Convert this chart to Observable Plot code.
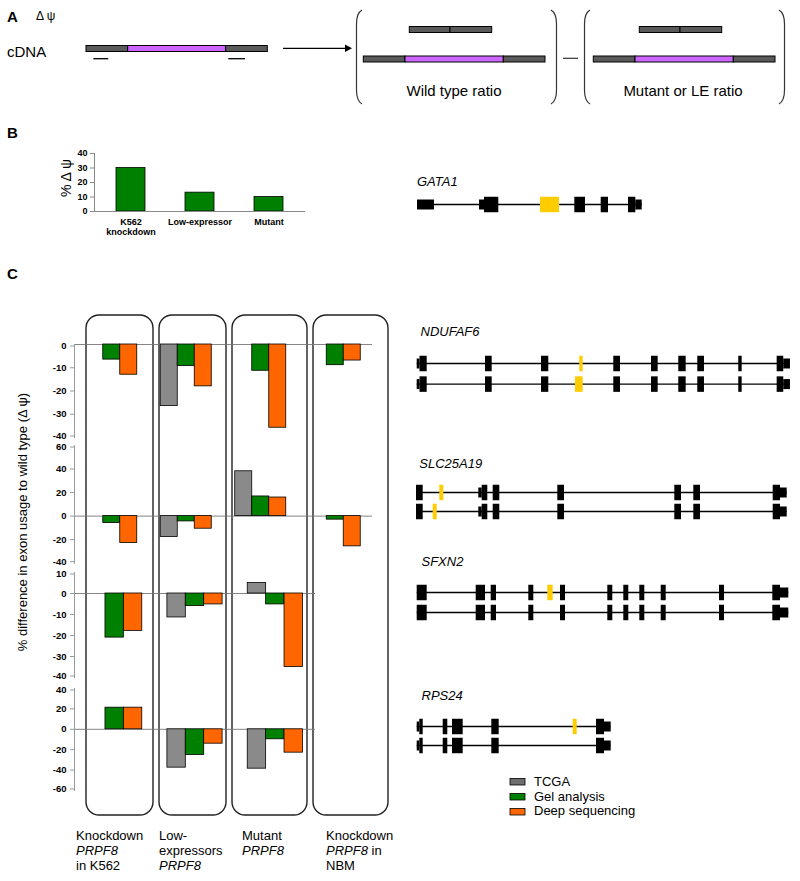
<!DOCTYPE html>
<html><head><meta charset="utf-8">
<script src="https://cdn.jsdelivr.net/npm/d3@7"></script>
<script src="https://cdn.jsdelivr.net/npm/@observablehq/plot@0.6"></script>
<style>
body{margin:0;background:#fff;}
#fig{position:relative;width:800px;height:881px;overflow:hidden;background:#fff;font-family:"Liberation Sans",Arial,Helvetica,sans-serif;}
</style></head>
<body><div id="fig"></div>
<script>
// ---------- DATA ----------
// Panel B
const bCategories = ["K562\nknockdown", "Low-expressor", "Mutant"];
const bValues = [30, 13, 10];
const bTicks = [0, 10, 20, 30, 40];

// Panel C
const cGroups = ["Knockdown PRPF8 in K562", "Low-expressors PRPF8", "Mutant PRPF8", "Knockdown PRPF8 in NBM"];
const cSeries = ["TCGA", "Gel analysis", "Deep sequencing"];
const cColors = ["#8a8a8a", "#008000", "#ff6600"];

const ndufaf6TCGA = [null, -26.5, null, null];
const ndufaf6Gel = [-6.5, -9.3, -11.3, -8.9];
const ndufaf6Deep = [-13, -18, -35.8, -6.9];
const ndufaf6Ticks = [0, -10, -20, -30, -40];

const slc25a19TCGA = [null, -17.8, 38.1, null];
const slc25a19Gel = [-5.9, -4.5, 16.7, -3];
const slc25a19Deep = [-22.9, -10.7, 15.8, -25.7];
const slc25a19Ticks = [60, 40, 20, 0, -20, -40];

const sfxn2TCGA = [null, -11.4, 5];
const sfxn2Gel = [-21, -6, -5.2];
const sfxn2Deep = [-17.8, -5.2, -35];
const sfxn2Ticks = [10, 0, -10, -20, -30, -40];

const rps24TCGA = [null, -37.6, -38.6];
const rps24Gel = [21.2, -25.2, -9.8];
const rps24Deep = [21.2, -14.1, -22.9];
const rps24Ticks = [40, 20, 0, -20, -40, -60];

// Gene structures: [start, end, kind] in relative gene coordinates
const gata1Span = [1, 226];
const gata1Exons = [[1, 18, "utr"], [63, 68, "utr"], [68, 82.3, "cds"], [158.3, 169, "cds"], [184.7, 192, "cds"], [212, 219.3, "cds"], [219.3, 225.7, "utr"]];
const gata1Alt = [[0, 124, 143]];

const ndufaf6Span = [0.7, 374];
const ndufaf6Exons = [[0.7, 3.5, "utr"], [3.5, 10.7, "cds"], [69, 75.7, "cds"], [125, 132.3, "cds"], [197.3, 204, "cds"], [235, 241.7, "cds"], [262.3, 269.7, "cds"], [281.3, 288, "cds"], [322.3, 325.7, "cds"], [360.7, 367.3, "cds"], [367.3, 374, "utr"]];
const ndufaf6Alt = [[0, 163.3, 166.7], [1, 159, 166.7]];

const slc25a19Span = [0, 370.7];
const slc25a19Exons = [[0, 6.7, "cds"], [62.3, 65.7, "utr"], [65.7, 71.3, "cds"], [76.7, 83.3, "cds"], [141.3, 148, "cds"], [258.3, 265, "cds"], [277.3, 284, "cds"], [356.7, 364, "cds"], [364, 370.7, "utr"]];
const slc25a19Alt = [[0, 23.3, 27.3], [1, 16.7, 20.7]];

const sfxn2Span = [0.7, 372.3];
const sfxn2Exons = [[0.7, 10.7, "cds"], [59.7, 69, "cds"], [74.7, 80, "cds"], [112.3, 117.3, "cds"], [144, 149, "cds"], [191.3, 196.3, "cds"], [207.3, 212.3, "cds"], [223.3, 228.3, "cds"], [244.7, 249.7, "cds"], [303, 308, "cds"], [356.3, 364, "cds"], [364, 372.3, "utr"]];
const sfxn2Alt = [[0, 131.3, 136.7]];

const rps24Span = [0.7, 194.7];
const rps24Exons = [[0.7, 3.3, "utr"], [3.3, 6.7, "cds"], [26.7, 31.3, "cds"], [36, 46.7, "cds"], [75.3, 82.7, "cds"], [180, 188, "cds"], [188, 194.7, "utr"]];
const rps24Alt = [[0, 156.7, 160.7]];

// ---------- LAYOUT ----------
const FONT = '"Liberation Sans", Arial, Helvetica, sans-serif';
const fig = document.getElementById("fig");
function place(el, left, top) {
  el.style.position = "absolute";
  el.style.left = left + "px";
  el.style.top = top + "px";
  el.style.maxWidth = "none";
  fig.appendChild(el);
}

// Static schematic / text layer
const NS = "http://www.w3.org/2000/svg";
const GR = "#5a5a5a", PU = "#cc66ff";
function seg(x, y, w, h, fill) { return `<rect x="${x}" y="${y}" width="${w}" height="${h}" fill="${fill}" stroke="#000" stroke-width="1"/>`; }
const staticSvg = `
<svg xmlns="${NS}" width="800" height="881" style="position:absolute;left:0;top:0" font-family='${FONT}'>
  <text x="7" y="22" font-size="15" font-weight="bold">A</text>
  <text x="36" y="20" font-size="12">Δ ψ</text>
  <text x="7" y="57" font-size="15">cDNA</text>
  ${seg(86, 45.5, 41.7, 6, GR)}${seg(127.7, 45.5, 98, 6, PU)}${seg(225.7, 45.5, 41.6, 6, GR)}
  <line x1="93.3" y1="58.7" x2="108.3" y2="58.7" stroke="#000" stroke-width="1.3"/>
  <line x1="228.3" y1="58.7" x2="245" y2="58.7" stroke="#000" stroke-width="1.3"/>
  <line x1="283" y1="48.3" x2="346" y2="48.3" stroke="#000" stroke-width="1.3"/>
  <polygon points="345,44.6 352,48.3 345,52" fill="#000"/>
  <path d="M362,10 Q356.5,13 356.5,24 L356.5,90 Q356.5,101 362,104" fill="none" stroke="#333" stroke-width="1.2"/>
  <path d="M551,10 Q556.5,13 556.5,24 L556.5,90 Q556.5,101 551,104" fill="none" stroke="#333" stroke-width="1.2"/>
  <path d="M590,10 Q584.5,13 584.5,24 L584.5,90 Q584.5,101 590,104" fill="none" stroke="#333" stroke-width="1.2"/>
  <path d="M779,10 Q784.5,13 784.5,24 L784.5,90 Q784.5,101 779,104" fill="none" stroke="#333" stroke-width="1.2"/>
  <line x1="563" y1="58.3" x2="578" y2="58.3" stroke="#333" stroke-width="1.2"/>
  ${seg(409.3, 26.5, 40.7, 6, GR)}${seg(450, 26.5, 41.7, 6, GR)}
  ${seg(363.3, 56, 41.7, 6, GR)}${seg(405, 56, 98.3, 6, PU)}${seg(503.3, 56, 41.7, 6, GR)}
  <text x="454" y="96" font-size="15" text-anchor="middle">Wild type ratio</text>
  ${seg(639.3, 26.5, 40.7, 6, GR)}${seg(680, 26.5, 41.7, 6, GR)}
  ${seg(593.3, 56, 41.7, 6, GR)}${seg(635, 56, 98.3, 6, PU)}${seg(733.3, 56, 41.7, 6, GR)}
  <text x="683" y="96" font-size="15" text-anchor="middle">Mutant or LE ratio</text>

  <text x="7" y="138" font-size="15" font-weight="bold">B</text>
  <text transform="translate(71,178) rotate(-90)" font-size="14" text-anchor="middle">% Δ ψ</text>
  <text x="417" y="186" font-size="13" font-style="italic">GATA1</text>

  <text x="7" y="279" font-size="15" font-weight="bold">C</text>
  <text transform="translate(26.5,522) rotate(-90)" font-size="13" text-anchor="middle">% difference in exon usage to wild type (Δ ψ)</text>
  <rect x="86" y="315" width="67" height="500" rx="13" fill="none" stroke="#222" stroke-width="1.4"/>
  <rect x="159" y="315" width="67" height="500" rx="13" fill="none" stroke="#222" stroke-width="1.4"/>
  <rect x="232" y="315" width="75" height="500" rx="13" fill="none" stroke="#222" stroke-width="1.4"/>
  <rect x="313" y="315" width="75" height="500" rx="13" fill="none" stroke="#222" stroke-width="1.4"/>

  <g font-size="13">
    <text x="76" y="840">Knockdown</text><text x="76" y="855" font-style="italic">PRPF8</text><text x="76" y="870">in K562</text>
    <text x="159" y="840">Low-</text><text x="159" y="855">expressors</text><text x="159" y="870" font-style="italic">PRPF8</text>
    <text x="242" y="840">Mutant</text><text x="242" y="855" font-style="italic">PRPF8</text>
    <text x="326" y="840">Knockdown</text><text x="326" y="855"><tspan font-style="italic">PRPF8</tspan> in</text><text x="326" y="870">NBM</text>
  </g>

  <g font-size="13" font-style="italic">
    <text x="420.5" y="336">NDUFAF6</text>
    <text x="419.3" y="468">SLC25A19</text>
    <text x="421.5" y="566">SFXN2</text>
    <text x="421.5" y="700">RPS24</text>
  </g>

  <g font-size="13">
    <rect x="510" y="778.5" width="15" height="6.5" fill="#6e6e6e" stroke="#000" stroke-width="0.8"/>
    <text x="534" y="786">${cSeries[0]}</text>
    <rect x="510" y="793.5" width="15" height="6.5" fill="${cColors[1]}" stroke="#000" stroke-width="0.8"/>
    <text x="534" y="800.5">${cSeries[1]}</text>
    <rect x="510" y="808.5" width="15" height="6.5" fill="${cColors[2]}" stroke="#000" stroke-width="0.8"/>
    <text x="534" y="815">${cSeries[2]}</text>
  </g>
</svg>`;
fig.insertAdjacentHTML("beforeend", staticSvg);

// ---------- PANEL B ----------
{
  const top = 153, bottom = 211, mT = 10, mB = 32;
  const data = bCategories.map((c, i) => ({cat: c, v: bValues[i]}));
  const p = Plot.plot({
    width: 330, height: (bottom - top) + mT + mB,
    marginTop: mT, marginBottom: mB, marginLeft: 94, marginRight: 25,
    style: {background: "transparent", fontFamily: FONT, overflow: "visible"},
    x: {domain: bCategories, paddingInner: 0.585, paddingOuter: 0.3, axis: null},
    y: {domain: [0, 40], axis: null},
    marks: [
      Plot.barY(data, {x: "cat", y: "v", fill: "#008000", stroke: "#000", strokeWidth: 0.8}),
      Plot.ruleY([0], {stroke: "#888"}),
      Plot.frame({anchor: "left", stroke: "#888"}),
      Plot.axisY({ticks: bTicks, tickSize: 4, tickPadding: 3, stroke: "#888", fill: "#000", fontWeight: "bold", fontSize: 9, tickFormat: d => String(d), label: null}),
      Plot.axisX({tickSize: 0, tickPadding: 6, fill: "#000", fontWeight: "bold", fontSize: 9, label: null, lineHeight: 1.15})
    ]
  });
  place(p, 0, top - mT);
}

// ---------- PANEL C ----------
function deltaPlot({tcga, gel, deep, ticks, yTop, yBottom, xRight, barW}) {
  const n = gel.length;
  const groups = cGroups.slice(0, n);
  const step = (xRight - 74) / n;
  const off = (step - 3 * barW) / 2;
  const seriesVals = [tcga, gel, deep];
  const mT = 8, mB = 8;
  const yMin = d3.min(ticks), yMax = d3.max(ticks);
  const marks = [Plot.ruleY([0], {stroke: "#777", strokeWidth: 0.9})];
  seriesVals.forEach((vals, s) => {
    const data = groups.map((g, i) => ({group: g, value: vals[i]})).filter(d => d.value != null);
    marks.push(Plot.barY(data, {
      x: "group", y: "value", fill: cColors[s], stroke: "#000", strokeWidth: 0.8,
      insetLeft: off + s * barW, insetRight: step - off - (s + 1) * barW
    }));
  });
  marks.push(Plot.frame({anchor: "left", stroke: "#999"}));
  const axisOpts = {tickSize: 4, tickPadding: 4, stroke: "#999", fill: "#000", fontWeight: "bold", fontSize: 9.5, tickFormat: d => String(d), label: null};
  marks.push(Plot.axisY({...axisOpts, ticks: ticks.filter(t => t !== yMin && t !== yMax)}));
  marks.push(Plot.axisY({...axisOpts, ticks: [yMax], dy: 1.5}));
  marks.push(Plot.axisY({...axisOpts, ticks: [yMin], dy: -1.5}));
  const p = Plot.plot({
    width: xRight + 20, height: (yBottom - yTop) + mT + mB,
    marginTop: mT, marginBottom: mB, marginLeft: 74, marginRight: 20,
    style: {background: "transparent", fontFamily: FONT, overflow: "visible"},
    x: {domain: groups, padding: 0, axis: null, round: false},
    y: {domain: [yMin, yMax], axis: null},
    marks
  });
  place(p, 0, yTop - mT);
}
deltaPlot({tcga: ndufaf6TCGA, gel: ndufaf6Gel, deep: ndufaf6Deep, ticks: ndufaf6Ticks, yTop: 344, yBottom: 437, xRight: 372, barW: 17});
deltaPlot({tcga: slc25a19TCGA, gel: slc25a19Gel, deep: slc25a19Deep, ticks: slc25a19Ticks, yTop: 445.3, yBottom: 563, xRight: 372, barW: 17});
deltaPlot({tcga: sfxn2TCGA, gel: sfxn2Gel, deep: sfxn2Deep, ticks: sfxn2Ticks, yTop: 572, yBottom: 677, xRight: 315, barW: 18.4});
deltaPlot({tcga: rps24TCGA, gel: rps24Gel, deep: rps24Deep, ticks: rps24Ticks, yTop: 688, yBottom: 790, xRight: 315, barW: 18.4});

// ---------- GENE STRUCTURES ----------
function genePlot({span, exons, alt, rowsY}) {
  const rows = rowsY.map((_, i) => i);
  const mT = 20, mB = 20;
  const h = rowsY.length > 1 ? rowsY[1] - rowsY[0] : 1;
  const ex = rows.flatMap(r => exons.map(e => ({row: r, start: e[0], end: e[1], kind: e[2]})));
  const alts = alt.map(a => ({row: a[0], start: a[1], end: a[2]}));
  const p = Plot.plot({
    width: 800, height: h + mT + mB,
    marginTop: mT, marginBottom: mB, marginLeft: 416, marginRight: 9,
    style: {background: "transparent", overflow: "visible"},
    x: {domain: [0, 375], axis: null},
    y: {domain: [0, 1], reverse: true, axis: null},
    marks: [
      Plot.ruleY(rows, {y: d => d, x1: () => span[0], x2: () => span[1], stroke: "#000", strokeWidth: 1.4}),
      Plot.ruleY(ex.filter(d => d.kind === "utr"), {y: "row", x1: "start", x2: "end", stroke: "#000", strokeWidth: 10}),
      Plot.ruleY(ex.filter(d => d.kind === "cds"), {y: "row", x1: "start", x2: "end", stroke: "#000", strokeWidth: 15.5}),
      Plot.ruleY(alts, {y: "row", x1: "start", x2: "end", stroke: "#ffcc00", strokeWidth: 15.5})
    ]
  });
  place(p, 0, rowsY[0] - mT);
}
genePlot({span: gata1Span, exons: gata1Exons, alt: gata1Alt, rowsY: [204.3]});
genePlot({span: ndufaf6Span, exons: ndufaf6Exons, alt: ndufaf6Alt, rowsY: [362.7, 383.3]});
genePlot({span: slc25a19Span, exons: slc25a19Exons, alt: slc25a19Alt, rowsY: [492, 511]});
genePlot({span: sfxn2Span, exons: sfxn2Exons, alt: sfxn2Alt, rowsY: [591.7, 611.7]});
genePlot({span: rps24Span, exons: rps24Exons, alt: rps24Alt, rowsY: [726, 745]});
</script>
</body></html>
